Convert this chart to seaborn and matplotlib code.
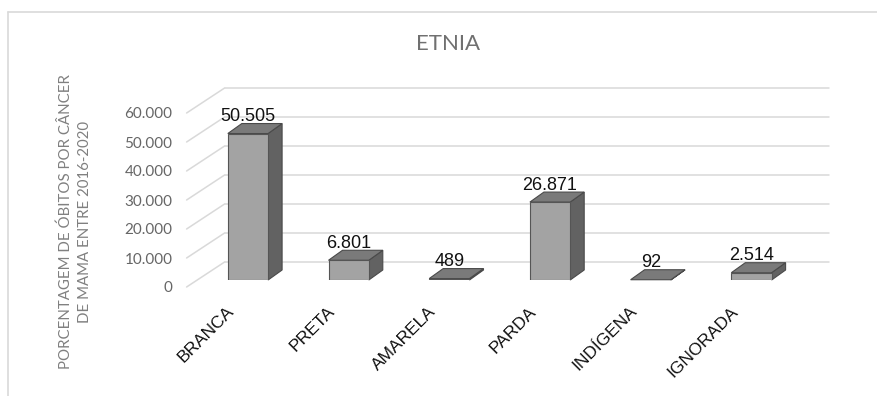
import matplotlib
matplotlib.use('Agg')
import matplotlib.pyplot as plt
import matplotlib.transforms as mtransforms
from matplotlib.patches import Polygon
from matplotlib.lines import Line2D
import pandas as pd
import seaborn as sb

# dados do gráfico
CATEGORIAS = ['BRANCA', 'PRETA', 'AMARELA', 'PARDA', 'INDÍGENA', 'IGNORADA']
OBITOS = [50505, 6801, 489, 26871, 92, 2514]
Y_TICKS = [0, 10000, 20000, 30000, 40000, 50000, 60000]
Y_TICK_LABELS = ['0', '10.000', '20.000', '30.000', '40.000', '50.000', '60.000']
TITULO = 'ETNIA'
Y_LABEL = 'PORCENTAGEM DE ÓBITOS POR CÂNCER\nDE MAMA ENTRE 2016-2020'

W, H, DPI = 877, 396, 100

sb.set_style('white')
plt.rcParams['font.family'] = ['Liberation Sans', 'DejaVu Sans']

df = pd.DataFrame({'etnia': CATEGORIAS, 'obitos': OBITOS})

fig = plt.figure(figsize=(W / DPI, H / DPI), dpi=DPI)
# plano frontal das barras (em pixels)
ax_l, ax_r, ax_b, ax_t = 197.6, 801.8, 280, 106
ax = fig.add_axes([ax_l / W, 1 - ax_b / H, (ax_r - ax_l) / W, (ax_b - ax_t) / H])

sb.barplot(data=df, x='etnia', y='obitos', color='#a3a3a3', saturation=1,
           width=0.4, edgecolor='#555555', linewidth=0.8, ax=ax, zorder=3)

xlo, xhi = -0.5, len(CATEGORIAS) - 0.5
ax.set_xlim(xlo, xhi)
ax.set_ylim(0, 60000)

# conversão pixel -> dados
px_x = (xhi - xlo) / (ax_r - ax_l)
px_y = 60000 / (ax_b - ax_t)

# parede do fundo (grade) e linhas laterais
back_dx, back_dy = 27 * px_x, 18 * px_y
front_dx, front_dy = -11 * px_x, -7 * px_y
for y in Y_TICKS:
    ax.plot([xlo + back_dx, xhi + back_dx], [y + back_dy, y + back_dy],
            color='#d9d9d9', lw=1.1, clip_on=False, zorder=1)
    ax.plot([xlo + front_dx, xlo + back_dx], [y + front_dy, y + back_dy],
            color='#d9d9d9', lw=1.1, clip_on=False, zorder=1)

# faces 3D das barras
dx, dy = 14 * px_x, 10 * px_y
for p in ax.patches[:len(CATEGORIAS)]:
    x0, w, h = p.get_x(), p.get_width(), p.get_height()
    side = Polygon([(x0 + w, 0), (x0 + w + dx, dy), (x0 + w + dx, h + dy), (x0 + w, h)],
                   closed=True, facecolor='#626262', edgecolor='#4a4a4a', lw=0.8,
                   clip_on=False, zorder=2)
    top = Polygon([(x0, h), (x0 + dx, h + dy), (x0 + w + dx, h + dy), (x0 + w, h)],
                  closed=True, facecolor='#7a7a7a', edgecolor='#4a4a4a', lw=0.8,
                  clip_on=False, zorder=2)
    ax.add_patch(side)
    ax.add_patch(top)

ax.bar_label(ax.containers[0], labels=[f'{v:,}'.replace(',', '.') for v in OBITOS],
             padding=6, fontsize=13, color='#111111')

# eixos
ax.set_yticks(Y_TICKS, labels=Y_TICK_LABELS)
ax.tick_params(axis='y', length=0, pad=18, labelsize=11, labelcolor='#666666')
for t in ax.get_yticklabels():
    t.set_fontfamily('Lato')
    t.set_transform(t.get_transform() + mtransforms.ScaledTranslation(0, -7 / DPI, fig.dpi_scale_trans))

ax.tick_params(axis='x', length=0, pad=0, labelsize=12.5, labelcolor='#111111')
for t in ax.get_xticklabels():
    t.set_rotation(45)
    t.set_ha('right')
    t.set_va('center')
    t.set_rotation_mode('anchor')
    t.set_transform(t.get_transform() + mtransforms.ScaledTranslation(-16 / DPI, -29 / DPI, fig.dpi_scale_trans))

ax.set_xlabel('')
ax.set_ylabel('')
for s in ax.spines.values():
    s.set_visible(False)
ax.patch.set_alpha(0)

fig.text(75 / W, 1 - 222 / H, Y_LABEL, rotation=90, ha='center', va='center',
         multialignment='center', fontsize=10.8, color='#808080', family='Lato',
         linespacing=1.45)
fig.text(448 / W, 1 - 44 / H, TITULO, ha='center', va='center', fontsize=16,
         color='#707070', family='Lato')

# borda do gráfico
fig.add_artist(Line2D([7.5 / W, 7.5 / W], [0, 1 - 11.5 / H], color='#d9d9d9', lw=1.2))
fig.add_artist(Line2D([7.5 / W, 1], [1 - 11.5 / H, 1 - 11.5 / H], color='#d9d9d9', lw=1.2))

fig.savefig('out.png', dpi=DPI)
plt.close(fig)
